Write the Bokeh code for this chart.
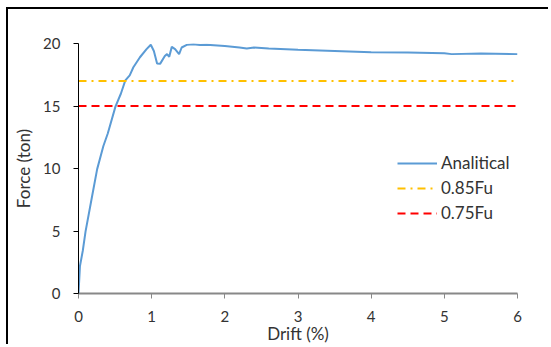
from bokeh.plotting import figure
from bokeh.models import Range1d, Legend, LegendItem, FixedTicker
from bokeh.embed import file_html
from bokeh.resources import INLINE

# Data
drift = [0.0, 0.02, 0.058, 0.096, 0.18, 0.255, 0.34, 0.40, 0.505, 0.58, 0.64, 0.70,
         0.75, 0.84, 0.93, 0.988, 1.03, 1.074, 1.115, 1.18, 1.21, 1.24, 1.275, 1.32,
         1.375, 1.41, 1.48, 1.57, 1.66, 1.75, 2.0, 2.2, 2.3, 2.4, 2.6, 3.0, 3.5, 4.0,
         4.5, 5.0, 5.1, 5.5, 6.0]
force = [0.0, 2.2, 3.4, 4.95, 7.6, 9.95, 11.8, 12.8, 14.95, 16.0, 17.05, 17.45,
         18.1, 18.9, 19.55, 19.9, 19.4, 18.4, 18.37, 19.0, 19.15, 18.94, 19.73, 19.55,
         19.15, 19.68, 19.89, 19.94, 19.88, 19.9, 19.8, 19.68, 19.6, 19.68, 19.6, 19.5, 19.4, 19.3,
         19.28, 19.22, 19.15, 19.2, 19.15]
ref_x = [0, 6]
fu85 = [17, 17]
fu75 = [15, 15]
x_ticks = [0, 1, 2, 3, 4, 5, 6]
y_ticks = [0, 5, 10, 15, 20]

FONT = "Lato"
TXT = "#333333"
p = figure(width=542, height=337, output_backend="svg", toolbar_location=None,
           x_range=Range1d(0, 6), y_range=Range1d(0, 20),
           min_border_left=70, min_border_right=33, min_border_top=34, min_border_bottom=50)
# picture frame (black border at top and left, as in the screenshot)
p.styles = {"margin-left": "6px", "margin-top": "7px",
            "border-left": "2px solid black", "border-top": "2px solid black"}
p.outline_line_color = None
p.xgrid.visible = False
p.ygrid.visible = False

r1 = p.line(drift, force, line_color="#5B9BD5", line_width=2)
r2 = p.line(ref_x, fu85, line_color="#FFC000", line_width=2, line_dash="8 5 2 5")
r3 = p.line(ref_x, fu75, line_color="#FF0000", line_width=2, line_dash="8 5")

for ax in (p.xaxis[0], p.yaxis[0]):
    ax.major_label_text_font = FONT
    ax.major_label_text_font_size = "15px"
    ax.major_label_text_color = TXT
    ax.axis_label_text_font = FONT
    ax.axis_label_text_font_size = "17px"
    ax.axis_label_text_font_style = "normal"
    ax.axis_label_text_color = TXT
    ax.minor_tick_line_color = None
    ax.major_tick_in = 0
    ax.major_tick_out = 5

p.xaxis.ticker = FixedTicker(ticks=x_ticks)
p.yaxis.ticker = FixedTicker(ticks=y_ticks)
p.xaxis.axis_label = "Drift (%)"
p.yaxis.axis_label = "Force (ton)"
p.xaxis.axis_line_color = "#888888"
p.xaxis.major_tick_line_color = "#888888"
p.xaxis.axis_line_width = 2
p.yaxis.axis_line_color = "black"
p.yaxis.major_tick_line_color = "black"
p.xaxis.major_label_standoff = 12
p.xaxis.axis_label_standoff = -2
p.yaxis.major_label_standoff = 13
p.yaxis.axis_label_standoff = 6

legend = Legend(items=[LegendItem(label="Analitical", renderers=[r1]),
                       LegendItem(label="0.85Fu", renderers=[r2]),
                       LegendItem(label="0.75Fu", renderers=[r3])],
                location=(319, 70))
legend.label_text_font = FONT
legend.label_text_font_size = "17px"
legend.label_text_color = TXT
legend.glyph_width = 40
legend.glyph_height = 20
legend.label_height = 20
legend.spacing = 4
legend.label_standoff = 4
legend.padding = 0
legend.margin = 0
legend.border_line_color = None
legend.background_fill_alpha = 0
p.add_layout(legend, "center")

open("out.html", "w").write(file_html(p, INLINE))
